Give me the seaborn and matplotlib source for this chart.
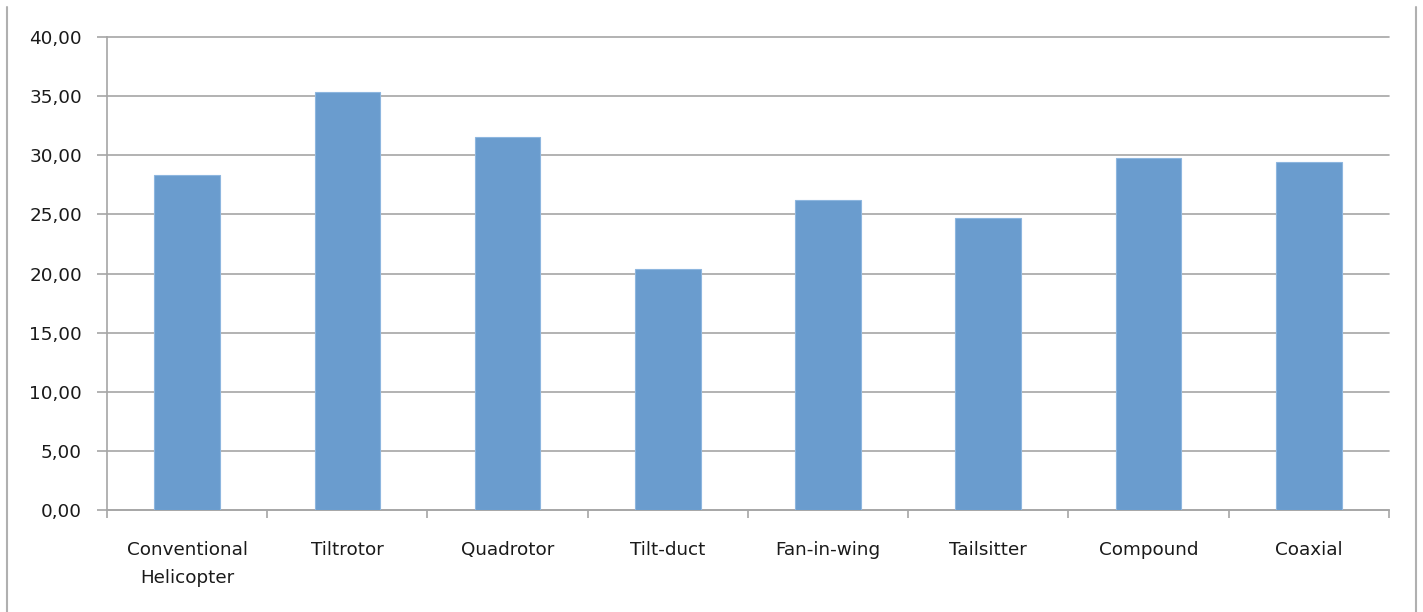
import numpy as np
import pandas as pd
import matplotlib
matplotlib.use("Agg")
import matplotlib.pyplot as plt
import seaborn as sns
from matplotlib.lines import Line2D
from matplotlib.ticker import FuncFormatter, MultipleLocator

# data
categories = ["Conventional\nHelicopter", "Tiltrotor", "Quadrotor", "Tilt-duct",
              "Fan-in-wing", "Tailsitter", "Compound", "Coaxial"]
values = [28.3, 35.35, 31.55, 20.4, 26.2, 24.7, 29.75, 29.45]

df = pd.DataFrame({"config": categories, "value": values})

sns.set_style("white")
plt.rcParams["font.family"] = ["DejaVu Sans"]

fig = plt.figure(figsize=(14.23, 6.12), dpi=100)
ax = fig.add_axes([0.0752, 0.1667, 0.976 - 0.0752, 0.9395 - 0.1667])

sns.barplot(data=df, x="config", y="value", color="#6a9cce", saturation=1,
            width=0.41, ax=ax, zorder=3, edgecolor="#8db6df", linewidth=0.8)

ax.set_xlim(-0.5, len(categories) - 0.5)
ax.set_ylim(0, 40)
ax.yaxis.set_major_locator(MultipleLocator(5))
ax.yaxis.set_major_formatter(FuncFormatter(lambda v, p: f"{v:.2f}".replace(".", ",")))
ax.grid(axis="y", color="#a6a6a6", linewidth=1.2, zorder=0)
for gl in ax.get_ygridlines():
    gl.set_clip_on(False)
ax.set_xlabel("")
ax.set_ylabel("")

for s in ["top", "right"]:
    ax.spines[s].set_visible(False)
for s in ["left", "bottom"]:
    ax.spines[s].set_color("#a6a6a6")
    ax.spines[s].set_linewidth(1.2)

# category boundary ticks like the original
ax.set_xticks(np.arange(-0.5, len(categories)), minor=True)
ax.tick_params(axis="x", which="minor", length=6, width=1.2, color="#a6a6a6", direction="out", bottom=True)
ax.tick_params(axis="x", which="major", length=0, pad=22, labelsize=13.2, labelcolor="#1a1a1a")
ax.tick_params(axis="y", which="major", length=7, width=1.2, color="#a6a6a6", direction="out", left=True,
               pad=11, labelsize=13.2, labelcolor="#1a1a1a")
for t in ax.get_xticklabels():
    t.set_linespacing(1.75)
    t.set_verticalalignment("top")

# outer chart frame (left and right edges)
fig.add_artist(Line2D([7 / 1423, 7 / 1423], [0, 1 - 7 / 612], transform=fig.transFigure, color="#b0b0b0", lw=1.5))
fig.add_artist(Line2D([1415.5 / 1423, 1415.5 / 1423], [0, 1 - 7 / 612], transform=fig.transFigure, color="#b0b0b0", lw=1.5))

fig.savefig("out.png", dpi=100)
